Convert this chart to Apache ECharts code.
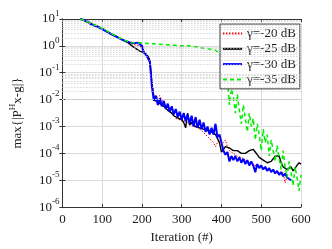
<!DOCTYPE html>
<html><head><meta charset="utf-8">
<script src="https://cdn.jsdelivr.net/npm/echarts@6/dist/echarts.min.js"></script>
<style>html,body{margin:0;padding:0;background:#fff}#c{width:332px;height:249px}</style>
</head><body><div id="c"></div>
<script>
const iterations = [45,50,55,60,65,70,75,80,85,90,95,100,105,110,115,120,125,130,135,140,145,150,155,160,165,170,175,180,185,190,195,200,205,210,215,220,225,230,235,240,245,250,255,260,265,270,275,280,285,290,295,300,305,310,315,320,325,330,335,340,345,350,355,360,365,370,375,380,385,390,395,400,405,410,415,420,425,430,435,440,445,450,455,460,465,470,475,480,485,490,495,500,505,510,515,520,525,530,535,540,545,550,555,560,565,570,575,580,585,590,595,600];

const gamma20 = [10,9.12,8.91,7.94,7.76,6.76,7.08,6.03,5.50,5.25,4.57,4.57,3.80,3.63,3.16,3.16,2.63,2.51,2.24,2.29,1.86,1.82,1.55,1.58,1.35,1.38,1.20,1.26,1.07,0.955,1.0,0.759,0.631,0.525,0.447,0.316,5.01e-2,1.58e-2,1.12e-2,1.26e-2,1.41e-2,1.0e-2,5.62e-3,5.01e-3,4.47e-3,3.55e-3,3.16e-3,2.82e-3,2.0e-3,2.24e-3,1.78e-3,1.58e-3,1.78e-3,1.41e-3,1.26e-3,1.32e-3,1.12e-3,1.0e-3,1.12e-3,8.91e-4,7.94e-4,7.08e-4,6.31e-4,5.01e-4,4.47e-4,3.55e-4,3.16e-4,2.51e-4,1.78e-4,2.51e-4,3.16e-4,2.82e-4,2.51e-4,3.16e-4,1.78e-4,1.26e-4,1.12e-4,1.0e-4,1.12e-4,7.94e-5,8.91e-5,7.08e-5,6.31e-5,5.62e-5,6.31e-5,4.47e-5,5.01e-5,3.55e-5,3.98e-5,3.55e-5,3.16e-5,3.55e-5,2.82e-5,3.16e-5,2.51e-5,2.82e-5,2.24e-5,2.51e-5,2.0e-5,2.24e-5,1.78e-5,1.58e-5,2.0e-5,7.94e-6,1.41e-5,null,null,null,null,null,null,null];

const gamma25 = [10,9.33,8.51,8.13,7.41,7.08,6.46,6.17,5.62,5.25,4.79,4.37,4.07,3.63,3.31,2.95,2.69,2.57,2.29,2.09,1.91,1.74,1.58,1.41,1.32,1.15,1.0,0.891,0.794,0.676,0.631,0.603,0.562,0.501,0.417,0.282,3.98e-2,1.26e-2,8.91e-3,7.94e-3,7.08e-3,6.31e-3,5.62e-3,5.01e-3,3.98e-3,3.55e-3,3.16e-3,2.51e-3,2.40e-3,2.09e-3,2.0e-3,1.78e-3,1.41e-3,8.91e-4,3.16e-3,1.12e-3,1.41e-3,1.26e-3,1.0e-3,8.91e-4,8.91e-4,7.94e-4,7.94e-4,7.08e-4,7.08e-4,6.31e-4,6.31e-4,5.62e-4,5.01e-4,4.47e-4,2.51e-4,1.12e-4,1.26e-4,1.78e-4,1.78e-4,1.58e-4,1.41e-4,1.26e-4,1.41e-4,1.26e-4,1.12e-4,1.0e-4,1.12e-4,1.0e-4,1.12e-4,1.26e-4,1.41e-4,1.41e-4,1.12e-4,8.91e-5,7.08e-5,6.31e-5,5.62e-5,5.01e-5,4.47e-5,3.98e-5,5.01e-5,6.31e-5,7.94e-5,8.91e-5,7.94e-5,4.47e-5,3.16e-5,2.82e-5,2.51e-5,2.82e-5,3.16e-5,2.24e-5,2.51e-5,3.55e-5,4.47e-5,3.98e-5];

const gamma30 = [10,8.91,9.12,7.76,7.94,6.61,6.92,5.75,6.03,5.01,5.13,4.17,4.27,3.47,3.55,2.88,2.95,2.40,2.45,2.04,2.09,1.70,1.74,1.48,1.58,1.35,1.45,1.26,1.41,1.32,1.45,1.0,0.562,0.468,0.355,0.251,3.16e-2,8.91e-3,1.41e-2,6.31e-3,1.12e-2,5.62e-3,8.91e-3,4.47e-3,7.08e-3,3.55e-3,5.62e-3,2.82e-3,4.47e-3,2.24e-3,3.55e-3,1.78e-3,3.16e-3,1.58e-3,2.82e-3,1.26e-3,2.51e-3,1.0e-3,2.24e-3,8.91e-4,1.78e-3,7.94e-4,1.41e-3,6.31e-4,1.0e-3,5.01e-4,8.91e-4,5.01e-4,1.26e-3,3.98e-4,5.01e-4,2.51e-4,1.26e-4,8.91e-5,1.12e-4,5.01e-5,7.94e-5,5.62e-5,7.94e-5,5.01e-5,7.08e-5,4.47e-5,6.31e-5,3.98e-5,5.62e-5,3.55e-5,5.01e-5,3.55e-5,2.0e-5,3.98e-5,2.82e-5,3.55e-5,2.51e-5,3.16e-5,2.24e-5,2.82e-5,2.0e-5,2.51e-5,1.78e-5,2.24e-5,1.58e-5,2.0e-5,1.41e-5,1.78e-5,1.26e-5,1.41e-5,1.0e-5,null,null,null,null,null];

const gamma35 = [10,9.12,8.71,7.94,7.59,6.92,6.61,6.03,5.75,5.13,4.90,4.37,4.07,3.63,3.31,3.02,2.75,2.45,2.34,2.09,1.95,1.78,1.62,1.48,1.45,1.35,1.32,1.26,1.26,1.26,1.32,1.29,1.26,1.26,1.23,1.20,1.20,1.17,1.17,1.15,1.15,1.12,1.12,1.10,1.10,1.07,1.07,1.07,1.05,1.05,1.02,1.02,1.0,1.0,1.0,0.977,0.977,0.955,0.933,0.891,0.871,0.832,0.813,0.794,0.776,0.759,0.741,0.724,0.692,0.631,0.525,0.447,0.251,0.1,5.01e-2,6.31e-3,2.51e-2,1.26e-2,3.16e-3,1.58e-2,3.98e-3,1.26e-3,6.31e-3,2.0e-3,6.31e-4,3.16e-3,1.0e-3,2.0e-3,3.16e-4,1.26e-3,5.01e-4,1.26e-4,7.94e-4,2.51e-4,5.01e-4,7.94e-5,3.16e-4,1.26e-4,5.01e-5,2.0e-4,6.31e-5,2.51e-5,1.26e-4,3.16e-5,1.26e-5,5.01e-5,2.0e-5,6.31e-6,3.16e-5,1.26e-5,3.98e-6,1.58e-5];

const seriesNames = ['\u03b3=-20 dB','\u03b3=-25 dB','\u03b3=-30 dB','\u03b3=-35 dB'];
const xTickStep = 100;

const FONT = 'Liberation Serif';
function pairs(vals){ return iterations.map((x,i)=>[x, vals[i]]); }

// minor log grid positions (2..9 x 10^k)
const minorLines = [];
for (let k=-6;k<=0;k++){ for (let m=2;m<=9;m++){ minorLines.push({yAxis: m*Math.pow(10,k)}); } }

const supRich = {
  b:{fontFamily:FONT,fontSize:13,color:'#1a1a1a',lineHeight:20},
  s:{fontFamily:FONT,fontSize:9,color:'#1a1a1a',verticalAlign:'top',lineHeight:9}
};

const chart = echarts.init(document.getElementById('c'), null, {renderer:'canvas'});
chart.setOption({
  animation:false,
  backgroundColor:'#fff',
  grid:{left:46,right:31,top:19,bottom:34.5,containLabel:false},
  legend:{
    data:seriesNames, orient:'vertical', left:220, top:24,
    itemWidth:19, itemHeight:10, itemGap:2.3,
    padding:[3,4,3,2],
    itemStyle:{opacity:0},
    backgroundColor:'#fff', borderColor:'#333', borderWidth:1,
    textStyle:{fontFamily:FONT,fontSize:13,color:'#1a1a1a',lineHeight:13}
  },
  xAxis:[{
    type:'value', min:0, max:600, interval:xTickStep,
    name:'Iteration (#)', nameLocation:'middle', nameGap:20,
    nameTextStyle:{fontFamily:FONT,fontSize:13,color:'#1a1a1a'},
    axisLine:{lineStyle:{color:'#333',width:1}},
    axisTick:{inside:true,length:3,lineStyle:{color:'#333'}},
    axisLabel:{fontFamily:FONT,fontSize:13,color:'#1a1a1a',margin:6},
    splitLine:{show:true,lineStyle:{color:'#dcdcdc',width:1}}
  },{
    type:'value', min:0, max:600, interval:xTickStep, position:'top',
    axisLine:{show:true,lineStyle:{color:'#333',width:1}},
    axisTick:{inside:true,length:3,lineStyle:{color:'#333'}},
    axisLabel:{show:false}, splitLine:{show:false}
  }],
  yAxis:[{
    type:'log', logBase:10, min:1e-6, max:10, splitNumber:7,
    name:'max{|P{s|H}x-g|}', nameLocation:'middle', nameGap:24,
    nameTextStyle:{fontFamily:FONT,fontSize:13,color:'#1a1a1a',lineHeight:20,rich:supRich},
    axisLine:{show:true,lineStyle:{color:'#333',width:1}},
    axisTick:{inside:true,length:3,lineStyle:{color:'#333'}},
    axisLabel:{margin:3,formatter:function(v){return '{b|10}{s|'+Math.round(Math.log10(v))+'}';},rich:supRich},
    splitLine:{show:true,lineStyle:{color:'#dcdcdc',width:1}}
  },{
    type:'log', logBase:10, min:1e-6, max:10, splitNumber:7, position:'right',
    axisLine:{show:true,lineStyle:{color:'#333',width:1}},
    axisTick:{inside:true,length:3,lineStyle:{color:'#333'}},
    axisLabel:{show:false}, splitLine:{show:false}
  }],
  series:[
    {type:'line', name:'minor', data:[], silent:true, symbol:'none',
     markLine:{silent:true,symbol:'none',label:{show:false},animation:false,
       lineStyle:{color:'#c4c4c4',type:[1,2],width:1},data:minorLines}},
    {type:'line', name:seriesNames[0], data:pairs(gamma20), symbol:'none', showSymbol:false,
     lineStyle:{color:'#ff0000',width:1,type:[1.5,1.5]}, itemStyle:{color:'#ff0000'}},
    {type:'line', name:seriesNames[1], data:pairs(gamma25), symbol:'none', showSymbol:false,
     lineStyle:{color:'#000000',width:1.4}, itemStyle:{color:'#000000'}},
    {type:'line', name:seriesNames[2], data:pairs(gamma30), symbol:'none', showSymbol:false,
     lineStyle:{color:'#0000ff',width:2}, itemStyle:{color:'#0000ff'}},
    {type:'line', name:seriesNames[3], data:pairs(gamma35), symbol:'none', showSymbol:false,
     lineStyle:{color:'#00ee00',width:1.5,type:[4,3]}, itemStyle:{color:'#00ee00'}}
  ]
});
</script></body></html>
